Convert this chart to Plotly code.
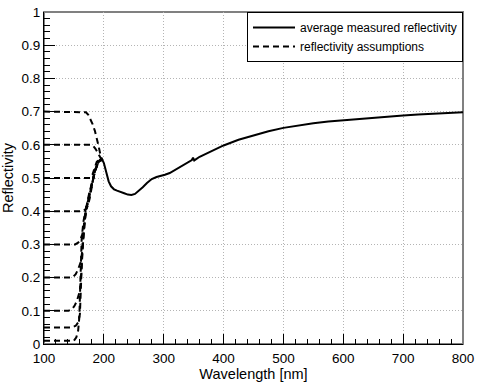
import plotly.graph_objects as go

# measured curve
wl_meas = [194, 197, 200, 204, 208, 212, 217, 222, 228, 234, 240, 246, 252, 258, 265,
           272, 280, 288, 295, 302, 310, 320, 330, 340, 347, 349, 351, 360, 375, 390,
           400, 425, 450, 475, 500, 525, 550, 575, 600, 625, 650, 675, 700, 725, 750,
           775, 800]
r_meas = [0.550, 0.557, 0.545, 0.515, 0.490, 0.475, 0.466, 0.462, 0.459, 0.454, 0.450,
          0.449, 0.452, 0.460, 0.472, 0.485, 0.497, 0.503, 0.506, 0.510, 0.515, 0.526,
          0.537, 0.548, 0.554, 0.561, 0.553, 0.564, 0.577, 0.590, 0.598, 0.615, 0.629,
          0.641, 0.651, 0.659, 0.665, 0.670, 0.674, 0.678, 0.681, 0.685, 0.688, 0.691,
          0.693, 0.696, 0.698]

# assumption curves (one per starting level)
wl_a70 = [100, 165, 170, 174, 177, 181, 185, 188, 191, 194, 196]
r_a70 = [0.70, 0.70, 0.698, 0.69, 0.68, 0.663, 0.642, 0.622, 0.598, 0.572, 0.556]
wl_a60 = [100, 177, 182, 186, 190, 194, 196]
r_a60 = [0.60, 0.60, 0.597, 0.588, 0.575, 0.562, 0.556]
wl_a50 = [100, 178, 181, 184, 188, 193, 196]
r_a50 = [0.50, 0.50, 0.51, 0.53, 0.548, 0.558, 0.556]
wl_a40 = [100, 164, 169, 173, 176.5, 180, 184, 189, 194]
r_a40 = [0.40, 0.40, 0.405, 0.415, 0.44, 0.48, 0.515, 0.545, 0.556]
wl_a30 = [100, 152, 157, 161, 164, 167, 169.5, 173, 177, 181, 186, 191, 195]
r_a30 = [0.30, 0.30, 0.305, 0.315, 0.33, 0.36, 0.40, 0.43, 0.46, 0.49, 0.525, 0.548, 0.556]
wl_a20 = [100, 144, 149, 153, 157, 162, 165, 167.5, 170.5, 175, 180, 185, 190, 195]
r_a20 = [0.20, 0.20, 0.203, 0.21, 0.225, 0.25, 0.30, 0.36, 0.41, 0.45, 0.485, 0.52, 0.545, 0.556]
wl_a10 = [100, 141, 147, 151, 155, 160, 162.5, 164.5, 167, 171, 176, 180, 185, 190, 195]
r_a10 = [0.10, 0.10, 0.105, 0.115, 0.13, 0.16, 0.22, 0.30, 0.36, 0.41, 0.45, 0.48, 0.52, 0.545, 0.556]
wl_a05 = [100, 147, 153, 157, 160, 161.5, 163, 165, 168, 172, 176, 180, 185, 190, 195]
r_a05 = [0.05, 0.05, 0.055, 0.065, 0.09, 0.15, 0.25, 0.33, 0.38, 0.42, 0.45, 0.48, 0.52, 0.545, 0.556]
wl_a01 = [100, 150, 154, 157, 159, 160, 161.5, 163, 166, 170, 175, 180, 185, 190, 195]
r_a01 = [0.01, 0.01, 0.02, 0.04, 0.08, 0.15, 0.25, 0.32, 0.37, 0.41, 0.44, 0.48, 0.52, 0.545, 0.556]

assumptions = [(wl_a70, r_a70), (wl_a60, r_a60), (wl_a50, r_a50), (wl_a40, r_a40),
               (wl_a30, r_a30), (wl_a20, r_a20), (wl_a10, r_a10), (wl_a05, r_a05),
               (wl_a01, r_a01)]

font = "Liberation Sans, Arial, Helvetica, sans-serif"

fig = go.Figure()
fig.add_trace(go.Scatter(x=wl_meas, y=r_meas, mode="lines",
                         line=dict(color="black", width=2),
                         name="average measured reflectivity"))
for i, (wl, r) in enumerate(assumptions):
    fig.add_trace(go.Scatter(x=wl, y=r, mode="lines",
                             line=dict(color="black", width=2, dash="6px,4px"),
                             name="reflectivity assumptions", legendgroup="ass",
                             showlegend=(i == 0)))

# gray frame on top/right
fig.add_shape(type="rect", xref="paper", yref="paper", x0=0, y0=0, x1=1, y1=1,
              line=dict(color="#808080", width=2), layer="below")

axis_common = dict(showline=True, linecolor="black", linewidth=1, mirror=False,
                   ticks="inside", tickcolor="black", showgrid=True,
                   gridcolor="#b4b4b4", griddash="1px,2px", gridwidth=1,
                   zeroline=False, tickfont=dict(size=13.5, color="black"),
                   ticklabeloverflow="allow")

fig.update_xaxes(range=[100, 800], dtick=100, tick0=100, ticklen=10,
                 ticklabelstandoff=2,
                 minor=dict(dtick=20, ticklen=5, ticks="inside", tickcolor="black",
                            showgrid=False),
                 title=dict(text="Wavelength [nm]", font=dict(size=14.5, color="black"),
                            standoff=1),
                 **axis_common)
fig.update_yaxes(range=[0, 1], dtick=0.1, tick0=0, ticklen=11,
                 minor=dict(dtick=0.02, ticklen=6, ticks="inside", tickcolor="black",
                            showgrid=False),
                 title=dict(text="Reflectivity", font=dict(size=14.5, color="black"),
                            standoff=4),
                 **axis_common)

fig.update_layout(
    width=479, height=382,
    margin=dict(l=44, r=14, t=5, b=35),
    paper_bgcolor="white", plot_bgcolor="white",
    font=dict(family=font, color="black"),
    legend=dict(x=1, y=1, xanchor="right", yanchor="top",
                bgcolor="white", bordercolor="black", borderwidth=1,
                font=dict(size=12), itemwidth=42, tracegroupgap=0),
)

fig.write_html("out.html", config={"displayModeBar": False},
               post_script="document.body.style.margin='0';document.body.style.overflow='hidden';")
